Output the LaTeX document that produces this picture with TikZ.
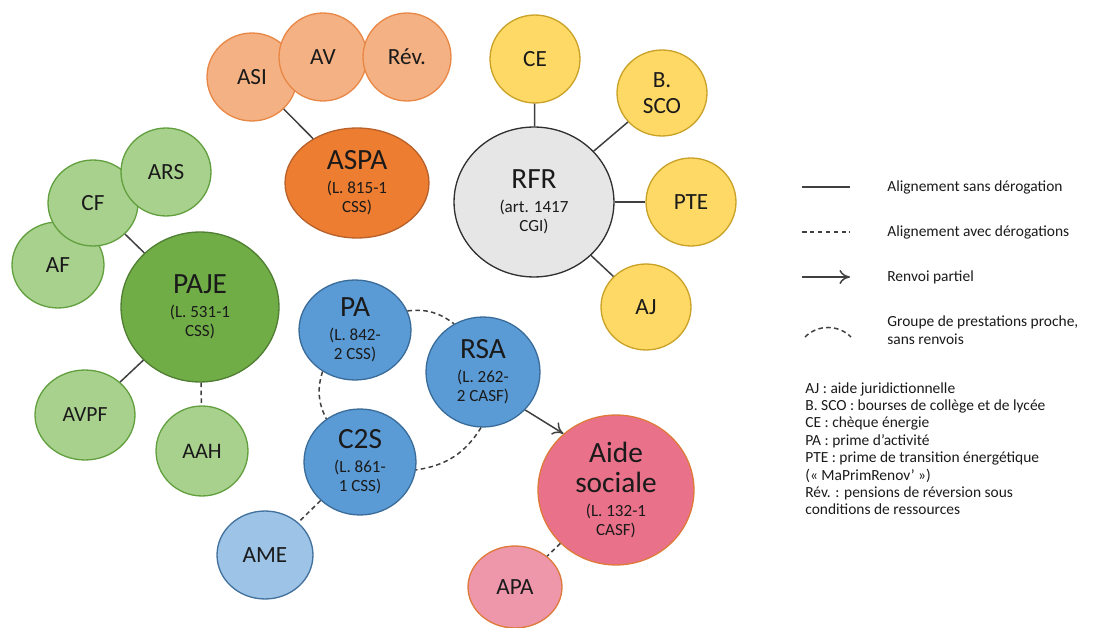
\documentclass[tikz,border=0pt]{standalone}
\usepackage{fontspec}
\setmainfont{Carlito}
\usetikzlibrary{shapes.geometric,arrows.meta}
\definecolor{orLf}{HTML}{F4B183}\definecolor{orLd}{HTML}{E98846}
\definecolor{orf}{HTML}{ED7D31}\definecolor{ord}{HTML}{B8612A}
\definecolor{yef}{HTML}{FFD966}\definecolor{yed}{HTML}{C9A227}
\definecolor{grf}{HTML}{E7E6E6}\definecolor{grd}{HTML}{303030}
\definecolor{glf}{HTML}{A9D18E}\definecolor{gld}{HTML}{62A03F}
\definecolor{gdf}{HTML}{70AD47}\definecolor{gdd}{HTML}{507E32}
\definecolor{blf}{HTML}{5B9BD5}\definecolor{bld}{HTML}{3A6C9A}
\definecolor{bllf}{HTML}{9DC3E6}\definecolor{blld}{HTML}{41719C}
\definecolor{pkf}{HTML}{E9718A}\definecolor{pkd}{HTML}{DE7A3A}
\definecolor{pklf}{HTML}{EE97AB}
\definecolor{txt}{HTML}{1A1A1A}
\definecolor{ln}{HTML}{404040}
\newcommand{\ttl}[1]{{\fontsize{16.7}{20}\selectfont #1}}
\tikzset{
  bub/.style={ellipse, inner sep=0pt, line width=0.75pt, text=txt, align=center},
  sz/.style 2 args={minimum width=#1*0.04cm, minimum height=#2*0.04cm},
  small/.style={bub, font=\fontsize{13.2}{15}\selectfont},
  big/.style={bub, font=\fontsize{9.7}{11}\selectfont},
  orl/.style={fill=orLf, draw=orLd},
  orb/.style={fill=orf, draw=ord},
  yel/.style={fill=yef, draw=yed},
  gry/.style={fill=grf, draw=grd},
  gnl/.style={fill=glf, draw=gld},
  gnd/.style={fill=gdf, draw=gdd},
  blu/.style={fill=blf, draw=bld},
  bll/.style={fill=bllf, draw=blld},
  pnk/.style={fill=pkf, draw=pkd},
  pnl/.style={fill=pklf, draw=pkd},
  conn/.style={draw=ln, line width=0.85pt},
  dconn/.style={conn, dash pattern=on 2.6pt off 1.9pt},
  legtxt/.style={text=txt, font=\fontsize{8.8}{9.9}\selectfont, inner sep=0pt},
}
\begin{document}
\begin{tikzpicture}[x=0.02cm, y=-0.02cm]
\useasboundingbox (0,0) rectangle (1107,628);
% ASPA cluster
\node[small, orl, sz={45}{44}] (asi) at (252,77) {ASI};
\node[small, orl, sz={44}{44}] (av) at (323,57) {AV};
\node[small, orl, sz={44}{44}] (rev) at (407,57) {Rév.};
\node[big, orb, sz={72}{55}] (aspa) at (357,183) {\ttl{ASPA}\\[2.4pt](L. 815-1\\CSS)};
\draw[conn] (asi) -- (aspa);
% RFR cluster
\node[big, gry, sz={80}{75}] (rfr) at (534,202) {\ttl{RFR}\\[2.4pt](art. 1417\\CGI)};
\node[small, yel, sz={45}{44}] (ce) at (535,59) {CE};
\node[small, yel, sz={45}{43}] (bsco) at (662,93) {B.\\SCO};
\node[small, yel, sz={45}{44}] (pte) at (691,202) {PTE};
\node[small, yel, sz={45}{43}] (aj) at (646,307) {AJ};
\draw[conn] (rfr) -- (ce);
\draw[conn] (rfr) -- (bsco);
\draw[conn] (rfr) -- (pte);
\draw[conn] (rfr) -- (aj);
% PAJE cluster
\node[small, gnl, sz={46}{43}] (af) at (58,265) {AF};
\node[small, gnl, sz={45}{43}] (cf) at (93,203) {CF};
\node[small, gnl, sz={45}{44}] (ars) at (166,172) {ARS};
\node[big, gnd, sz={79}{75}] (paje) at (200,307) {\ttl{PAJE}\\[2.4pt](L. 531-1\\CSS)};
\node[small, gnl, sz={50}{45}, font=\fontsize{12.3}{14}\selectfont] (avpf) at (85,415) {AVPF};
\node[small, gnl, sz={46}{45}, font=\fontsize{12.6}{14}\selectfont] (aah) at (202,451) {AAH};
\draw[conn] (cf) -- (paje);
\draw[conn] (paje) -- (avpf);
\draw[dconn] (paje) -- (aah);
% Centre group
\node[big, blu, sz={56}{50}] (pa) at (355,330) {\ttl{PA}\\[2.4pt](L. 842-\\2 CSS)};
\node[big, blu, sz={57}{55}] (rsa) at (483,372) {\ttl{RSA}\\[2.4pt](L. 262-\\2 CASF)};
\node[big, blu, sz={56}{53}] (c2s) at (360,462) {\ttl{C2S}\\[2.4pt](L. 861-\\1 CSS)};
\node[small, bll, sz={48}{44}] (ame) at (265,555) {AME};
\node[big, pnk, sz={78}{75}] (aide) at (616,490) {\ttl{Aide}\\[4.5pt]\ttl{sociale}\\[2.4pt](L. 132-1\\CASF)};
\node[small, pnl, sz={47}{41}] (apa) at (515,587) {APA};
\draw[dconn] (pa.20) to[bend left=22] (rsa.121);
\draw[dconn] (pa.232) to[bend right=22] (c2s.128);
\draw[dconn] (rsa.268) to[bend left=25] (c2s.352);
\draw[conn, -{To[length=6pt,width=8pt]}] (rsa.-42) -- (aide.133);
\draw[dconn] (c2s) -- (ame);
\draw[dconn] (aide) -- (apa);
% Legend
\coordinate (l1a) at (802,187); \coordinate (l1b) at (850,187);
\coordinate (l2a) at (802,232); \coordinate (l2b) at (850,232);
\coordinate (l3a) at (802,277); \coordinate (l3b) at (850,277);
\coordinate (l4a) at (805,337); \coordinate (l4b) at (851,337);
\draw[conn] (l1a) -- (l1b);
\draw[dconn] (l2a) -- (l2b);
\draw[conn, -{To[length=6pt,width=8pt]}] (l3a) -- (l3b);
\draw[dconn] (l4a) to[bend left=45] (l4b);
\node[legtxt, anchor=west] (t1) at (887,187) {Alignement sans dérogation};
\node[legtxt, anchor=west] (t2) at (887,232) {Alignement avec dérogations};
\node[legtxt, anchor=west] (t3) at (887,277) {Renvoi partiel};
\node[legtxt, anchor=west, align=left] (t4) at (887,330) {Groupe de prestations proche,\\sans renvois};
\node[legtxt, anchor=north west, align=left] (gloss) at (805,382) {AJ : aide juridictionnelle\\B. SCO : bourses de collège et de lycée\\CE : chèque énergie\\PA : prime d’activité\\PTE : prime de transition énergétique\\(« MaPrimRenov’ »)\\Rév. : pensions de réversion sous\\conditions de ressources};
\end{tikzpicture}
\end{document}
